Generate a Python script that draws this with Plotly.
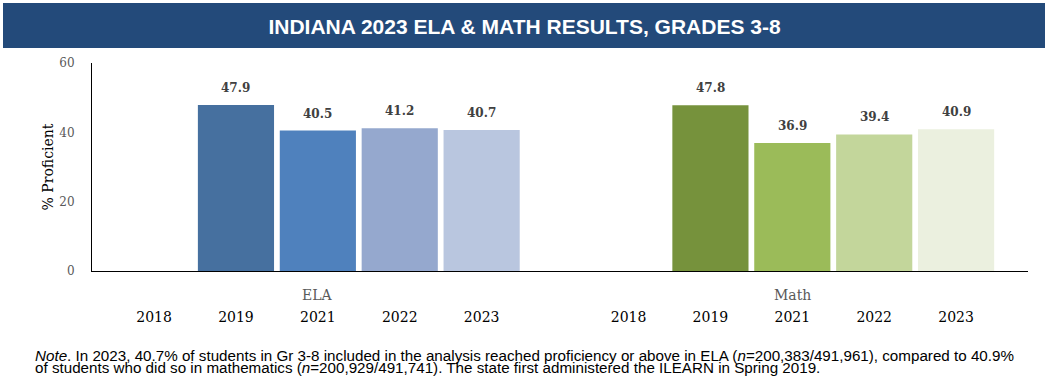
import plotly.graph_objects as go

# ---- data ----
subjects = ["ELA", "Math"]
years = ["2018", "2019", "2021", "2022", "2023"]
ela_values = [None, 47.9, 40.5, 41.2, 40.7]
math_values = [None, 47.8, 36.9, 39.4, 40.9]
ela_colors = ["#46709F", "#46709F", "#4F81BD", "#95A8CE", "#B9C6DF"]
math_colors = ["#76923C", "#76923C", "#9BBB59", "#C3D69B", "#EBF0DF"]
y_ticks = [0, 20, 40, 60]

title_text = "INDIANA 2023 ELA &amp; MATH RESULTS, GRADES 3-8"
note_line1 = ("<i>Note</i>. In 2023, 40.7% of students in Gr 3-8 included in the analysis reached "
              "proficiency or above in ELA (<i>n</i>=200,383/491,961), compared to 40.9%")
note_line2 = ("of students who did so in mathematics (<i>n</i>=200,929/491,741). "
              "The state first administered the ILEARN in Spring 2019.")

# ---- layout constants ----
GROUP_STEP = 5.794
BAR_W = 0.93
SERIF = "DejaVu Serif"
SANS = "Liberation Sans, Arial"

series = [ela_values, math_values]
colors = [ela_colors, math_colors]

fig = go.Figure()
tickvals, ticktext = [], []
annotations = []
for gi, (subj, vals, cols) in enumerate(zip(subjects, series, colors)):
    xs = [gi * GROUP_STEP + i for i in range(len(years))]
    fig.add_trace(go.Bar(
        x=xs, y=vals, width=BAR_W, marker=dict(color=cols, line=dict(width=0)),
        name=subj, showlegend=False, hoverinfo="skip"))
    tickvals += xs
    ticktext += years
    for x, v in zip(xs, vals):
        if v is not None:
            annotations.append(dict(
                x=x, y=v, xref="x", yref="y", text=f"{v:.1f}", showarrow=False,
                yanchor="bottom", yshift=8,
                font=dict(family=SERIF, size=12, color="#404040", weight="bold")))
    annotations.append(dict(
        x=gi * GROUP_STEP + (len(years) - 1) / 2, y=0, xref="x", yref="paper",
        text=subj, showarrow=False, yanchor="middle", yshift=-24,
        font=dict(family=SERIF, size=14, color="#595959")))

# note lines
annotations.append(dict(x=(33 - 92) / 936, y=(271 - 355) / 208, xref="paper", yref="paper",
                        xanchor="left", yanchor="middle", text=note_line1, showarrow=False,
                        font=dict(family=SANS, size=15.2, color="#000000")))
annotations.append(dict(x=(33 - 92) / 936, y=(271 - 367) / 208, xref="paper", yref="paper",
                        xanchor="left", yanchor="middle", text=note_line2, showarrow=False,
                        font=dict(family=SANS, size=15.2, color="#000000")))

fig.update_layout(
    width=1049, height=378,
    margin=dict(l=92, r=21, t=63, b=107),
    paper_bgcolor="white", plot_bgcolor="white",
    barmode="overlay",
    title=dict(text=title_text, x=0.5, xref="container", xanchor="center",
               y=1 - 27 / 378, yref="container", yanchor="middle",
               font=dict(family=SANS, size=21, color="white", weight="bold")),
    shapes=[dict(type="rect", xref="paper", yref="paper",
                 x0=(3 - 92) / 936, x1=(1045 - 92) / 936,
                 y0=(271 - 48) / 208, y1=(271 - 3) / 208,
                 fillcolor="#234A7A", line=dict(width=0), layer="below")],
    annotations=annotations,
    xaxis=dict(range=[-0.758, 10.672], tickmode="array", tickvals=tickvals, ticktext=ticktext,
               showgrid=False, zeroline=False, showline=True, linecolor="black", linewidth=1,
               ticks="", ticklabelstandoff=33,
               tickfont=dict(family=SERIF, size=14, color="#000000")),
    yaxis=dict(range=[0, 60], tickvals=y_ticks, showgrid=False, zeroline=False,
               showline=True, linecolor="black", linewidth=1, ticks="",
               ticklabelstandoff=14,
               tickfont=dict(family=SERIF, size=12, color="#595959"),
               title=dict(text="% Proficient", standoff=2,
                          font=dict(family=SERIF, size=14, color="#000000"))),
)

fig.write_html("out.html", config={"displayModeBar": False},
               post_script="document.body.style.margin='0';")
